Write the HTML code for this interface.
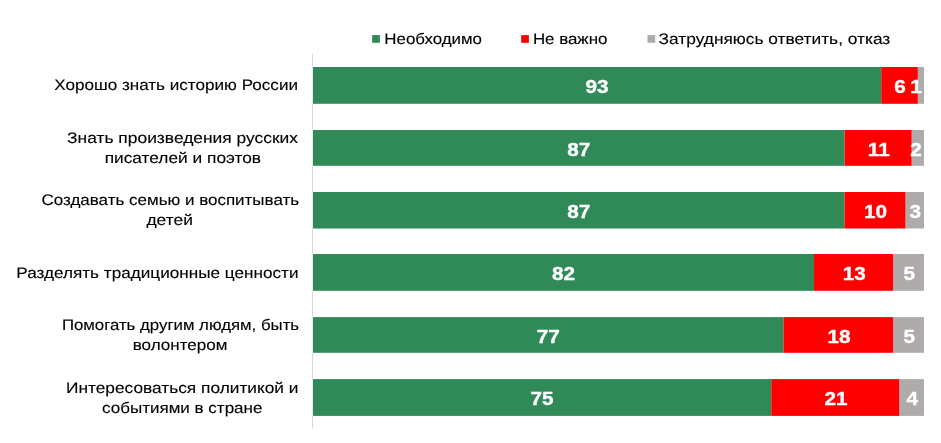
<!DOCTYPE html>
<html lang="ru">
<head>
<meta charset="utf-8">
<title>Chart</title>
<style>
html,body{margin:0;padding:0;background:#fff;}
body{width:941px;height:443px;overflow:hidden;}
svg{display:block;}
.lab{font-family:"Liberation Sans",Arial,sans-serif;font-size:15.2px;fill:#000;stroke:#000;stroke-width:0.12px;text-rendering:geometricPrecision;}
.leg{font-family:"Liberation Sans",Arial,sans-serif;font-size:15.2px;fill:#000;stroke:#000;stroke-width:0.12px;text-rendering:geometricPrecision;}
.val{font-family:"Liberation Sans",Arial,sans-serif;font-size:18px;font-weight:bold;fill:#fff;stroke:#fff;stroke-width:0.35px;text-anchor:middle;}
</style>
</head>
<body>
<svg width="941" height="443" viewBox="0 0 941 443">
<rect x="0" y="0" width="941" height="443" fill="#ffffff"/>
<rect x="312" y="54.0" width="1" height="374.5" fill="#D9D9D9"/>
<rect x="372.2" y="35.1" width="7.7" height="7.7" fill="#2F8A57"/>
<text class="leg" x="384.3" y="43.8" textLength="97.7" lengthAdjust="spacingAndGlyphs">Необходимо</text>
<rect x="521.2" y="35.1" width="7.7" height="7.7" fill="#FF0000"/>
<text class="leg" x="532.9" y="43.8" textLength="74.5" lengthAdjust="spacingAndGlyphs">Не важно</text>
<rect x="647.5" y="35.1" width="7.7" height="7.7" fill="#AFABAB"/>
<text class="leg" x="658.6" y="43.8" textLength="231.7" lengthAdjust="spacingAndGlyphs">Затрудняюсь ответить, отказ</text>
<rect x="311.5" y="67.0" width="2" height="36.8" fill="#ffffff"/>
<rect x="312.85" y="67.0" width="568.38" height="36.8" fill="#2F8A57"/>
<rect x="881.23" y="67.0" width="36.66" height="36.8" fill="#FF0000"/>
<rect x="917.89" y="67.0" width="6.11" height="36.8" fill="#AFABAB"/>
<text class="val" transform="translate(597.1 93.0) scale(1.15 1)" x="0" y="0">93</text>
<text class="val" transform="translate(900.1 93.0) scale(1.15 1)" x="0" y="0">6</text>
<text class="val" transform="translate(916.1 93.0) scale(1.15 1)" x="0" y="0">1</text>
<text class="lab" x="54.2" y="89.6" textLength="243.8" lengthAdjust="spacingAndGlyphs">Хорошо знать историю России</text>
<rect x="311.5" y="130.0" width="2" height="35.8" fill="#ffffff"/>
<rect x="312.85" y="130.0" width="531.72" height="35.8" fill="#2F8A57"/>
<rect x="844.57" y="130.0" width="67.21" height="35.8" fill="#FF0000"/>
<rect x="911.78" y="130.0" width="12.22" height="35.8" fill="#AFABAB"/>
<text class="val" transform="translate(578.8 156.0) scale(1.15 1)" x="0" y="0">87</text>
<text class="val" transform="translate(878.7 156.0) scale(1.15 1)" x="0" y="0">11</text>
<text class="val" transform="translate(916.1 156.0) scale(1.15 1)" x="0" y="0">2</text>
<text class="lab" x="67.1" y="142.7" textLength="230.9" lengthAdjust="spacingAndGlyphs">Знать произведения русских</text>
<text class="lab" x="104.7" y="163.1" textLength="156.3" lengthAdjust="spacingAndGlyphs">писателей и поэтов</text>
<rect x="311.5" y="192.0" width="2" height="36.5" fill="#ffffff"/>
<rect x="312.85" y="192.0" width="531.72" height="36.5" fill="#2F8A57"/>
<rect x="844.57" y="192.0" width="61.10" height="36.5" fill="#FF0000"/>
<rect x="905.67" y="192.0" width="18.33" height="36.5" fill="#AFABAB"/>
<text class="val" transform="translate(578.8 218.0) scale(1.15 1)" x="0" y="0">87</text>
<text class="val" transform="translate(875.6 218.0) scale(1.15 1)" x="0" y="0">10</text>
<text class="val" transform="translate(915.3 218.0) scale(1.15 1)" x="0" y="0">3</text>
<text class="lab" x="41.5" y="204.7" textLength="257.6" lengthAdjust="spacingAndGlyphs">Создавать семью и воспитывать</text>
<text class="lab" x="146.4" y="225.1" textLength="46.5" lengthAdjust="spacingAndGlyphs">детей</text>
<rect x="311.5" y="254.0" width="2" height="36.8" fill="#ffffff"/>
<rect x="312.85" y="254.0" width="501.17" height="36.8" fill="#2F8A57"/>
<rect x="814.02" y="254.0" width="79.43" height="36.8" fill="#FF0000"/>
<rect x="893.45" y="254.0" width="30.55" height="36.8" fill="#AFABAB"/>
<text class="val" transform="translate(563.5 280.0) scale(1.15 1)" x="0" y="0">82</text>
<text class="val" transform="translate(854.2 280.0) scale(1.15 1)" x="0" y="0">13</text>
<text class="val" transform="translate(909.2 280.0) scale(1.15 1)" x="0" y="0">5</text>
<text class="lab" x="16.3" y="277.5" textLength="282.2" lengthAdjust="spacingAndGlyphs">Разделять традиционные ценности</text>
<rect x="311.5" y="317.1" width="2" height="35.7" fill="#ffffff"/>
<rect x="312.85" y="317.1" width="470.62" height="35.7" fill="#2F8A57"/>
<rect x="783.47" y="317.1" width="109.98" height="35.7" fill="#FF0000"/>
<rect x="893.45" y="317.1" width="30.55" height="35.7" fill="#AFABAB"/>
<text class="val" transform="translate(548.2 343.1) scale(1.15 1)" x="0" y="0">77</text>
<text class="val" transform="translate(839.0 343.1) scale(1.15 1)" x="0" y="0">18</text>
<text class="val" transform="translate(909.2 343.1) scale(1.15 1)" x="0" y="0">5</text>
<text class="lab" x="61.9" y="329.9" textLength="237.2" lengthAdjust="spacingAndGlyphs">Помогать другим людям, быть</text>
<text class="lab" x="132.7" y="350.0" textLength="94.7" lengthAdjust="spacingAndGlyphs">волонтером</text>
<rect x="311.5" y="379.1" width="2" height="36.8" fill="#ffffff"/>
<rect x="312.85" y="379.1" width="458.40" height="36.8" fill="#2F8A57"/>
<rect x="771.25" y="379.1" width="128.31" height="36.8" fill="#FF0000"/>
<rect x="899.56" y="379.1" width="24.44" height="36.8" fill="#AFABAB"/>
<text class="val" transform="translate(542.1 405.1) scale(1.15 1)" x="0" y="0">75</text>
<text class="val" transform="translate(835.9 405.1) scale(1.15 1)" x="0" y="0">21</text>
<text class="val" transform="translate(912.3 405.1) scale(1.15 1)" x="0" y="0">4</text>
<text class="lab" x="66.0" y="392.7" textLength="232.5" lengthAdjust="spacingAndGlyphs">Интересоваться политикой и</text>
<text class="lab" x="102.1" y="412.9" textLength="160.3" lengthAdjust="spacingAndGlyphs">событиями в стране</text>
</svg>
</body>
</html>
